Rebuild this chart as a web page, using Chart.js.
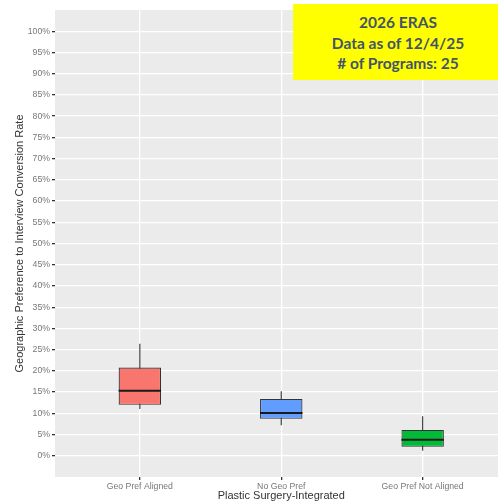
<!DOCTYPE html>
<html>
<head>
<meta charset="utf-8">
<script src="https://cdn.jsdelivr.net/npm/chart.js@4.4.1/dist/chart.umd.min.js"></script>
<style>
  html, body { margin: 0; padding: 0; background: #fff; }
  #wrap { position: relative; width: 498px; height: 504px; overflow: hidden; }
  #myChart { position: absolute; left: 0; top: 0; }
  #note {
    position: absolute; left: 293px; top: 4px; width: 210px; height: 76px;
    background: #ffff00; color: #44546a;
    font-family: Lato, "Open Sans", sans-serif; font-weight: bold;
    font-size: 15.5px; line-height: 20.5px; text-align: center;
    padding-top: 8px; box-sizing: border-box;
  }
</style>
</head>
<body>
<div id="wrap">
  <canvas id="myChart" width="510" height="504"></canvas>
  <div id="note">2026 ERAS<br>Data as of 12/4/25<br># of Programs: 25</div>
</div>
<script>
const categories = ['Geo Pref Aligned', 'No Geo Pref', 'Geo Pref Not Aligned'];
const positions = [1, 2, 3];
const mins = [11.0, 7.2, 1.2];
const q1s = [12.0, 8.7, 2.1];
const medians = [15.3, 10.1, 3.8];
const q3s = [20.8, 13.4, 6.1];
const maxs = [26.4, 15.2, 9.3];
const yTicks = [0, 5, 10, 15, 20, 25, 30, 35, 40, 45, 50, 55, 60, 65, 70, 75, 80, 85, 90, 95, 100];
const boxColors = ['#F8766D', '#619CFF', '#00BA38'];

const panelBg = {
    id: 'panelBg',
    beforeDraw(chart) {
        const a = chart.chartArea;
        chart.ctx.save();
        chart.ctx.fillStyle = '#EBEBEB';
        chart.ctx.fillRect(a.left, a.top, a.right - a.left, a.bottom - a.top);
        chart.ctx.restore();
    }
};

// whiskers behind the boxes, medians on top
const boxParts = {
    id: 'boxParts',
    beforeDatasetsDraw(chart) {
        const ctx = chart.ctx;
        const y = chart.scales.y;
        const meta = chart.getDatasetMeta(0);
        ctx.save();
        ctx.strokeStyle = '#333333';
        ctx.lineWidth = 1.1;
        meta.data.forEach((bar, i) => {
            ctx.beginPath();
            ctx.moveTo(bar.x, y.getPixelForValue(maxs[i]));
            ctx.lineTo(bar.x, y.getPixelForValue(mins[i]));
            ctx.stroke();
        });
        ctx.restore();
    },
    afterDatasetsDraw(chart) {
        const ctx = chart.ctx;
        const y = chart.scales.y;
        const meta = chart.getDatasetMeta(0);
        ctx.save();
        ctx.strokeStyle = '#1a1a1a';
        ctx.lineWidth = 2;
        meta.data.forEach((bar, i) => {
            const py = y.getPixelForValue(medians[i]);
            ctx.beginPath();
            ctx.moveTo(bar.x - bar.width / 2, py);
            ctx.lineTo(bar.x + bar.width / 2, py);
            ctx.stroke();
        });
        ctx.restore();
    }
};

const ctx = document.getElementById('myChart').getContext('2d');
const chart = new Chart(ctx, {
    type: 'bar',
    data: {
        datasets: [{
            data: positions.map((p, i) => ({ x: p, y: [q1s[i], q3s[i]] })),
            backgroundColor: boxColors,
            borderColor: '#333333',
            borderWidth: 1.2,
            borderSkipped: false,
            barPercentage: 0.3,
            categoryPercentage: 1
        }]
    },
    options: {
        responsive: false,
        animation: false,
        devicePixelRatio: 1,
        layout: { padding: { left: 0, top: 10, right: 2.5, bottom: 0 } },
        plugins: { legend: { display: false }, tooltip: { enabled: false } },
        scales: {
            x: {
                type: 'linear',
                min: 0.4,
                max: 3.6,
                offset: false,
                afterBuildTicks: s => { s.ticks = positions.map(v => ({ value: v })); },
                afterFit: s => { s.height = 27; },
                grid: { offset: false, color: '#ffffff', lineWidth: 1.3, tickColor: '#333333', tickLength: 3 },
                border: { display: false },
                ticks: {
                    autoSkip: false, maxRotation: 0, padding: 1,
                    color: '#777777',
                    font: { family: '"Liberation Sans", Arial, sans-serif', size: 8.7 },
                    callback: v => categories[v - 1]
                },
                title: {
                    display: true,
                    text: 'Plastic Surgery-Integrated',
                    color: '#333333',
                    padding: { top: 0, bottom: 1.4 },
                    font: { family: '"Liberation Sans", Arial, sans-serif', size: 11 }
                }
            },
            y: {
                min: -5,
                max: 105,
                afterBuildTicks: s => { s.ticks = yTicks.map(v => ({ value: v })); },
                afterFit: s => { s.width = 55; },
                grid: { color: '#ffffff', lineWidth: 1.3, tickColor: '#333333', tickLength: 3 },
                border: { display: false },
                ticks: {
                    padding: 2,
                    color: '#777777',
                    font: { family: '"Liberation Sans", Arial, sans-serif', size: 8.7 },
                    callback: v => v + '%'
                },
                title: {
                    display: true,
                    text: 'Geographic Preference to Interview Conversion Rate',
                    color: '#333333',
                    padding: { top: 13.4, bottom: 0 },
                    font: { family: '"Liberation Sans", Arial, sans-serif', size: 11 }
                }
            }
        }
    },
    plugins: [panelBg, boxParts]
});
</script>
</body>
</html>
